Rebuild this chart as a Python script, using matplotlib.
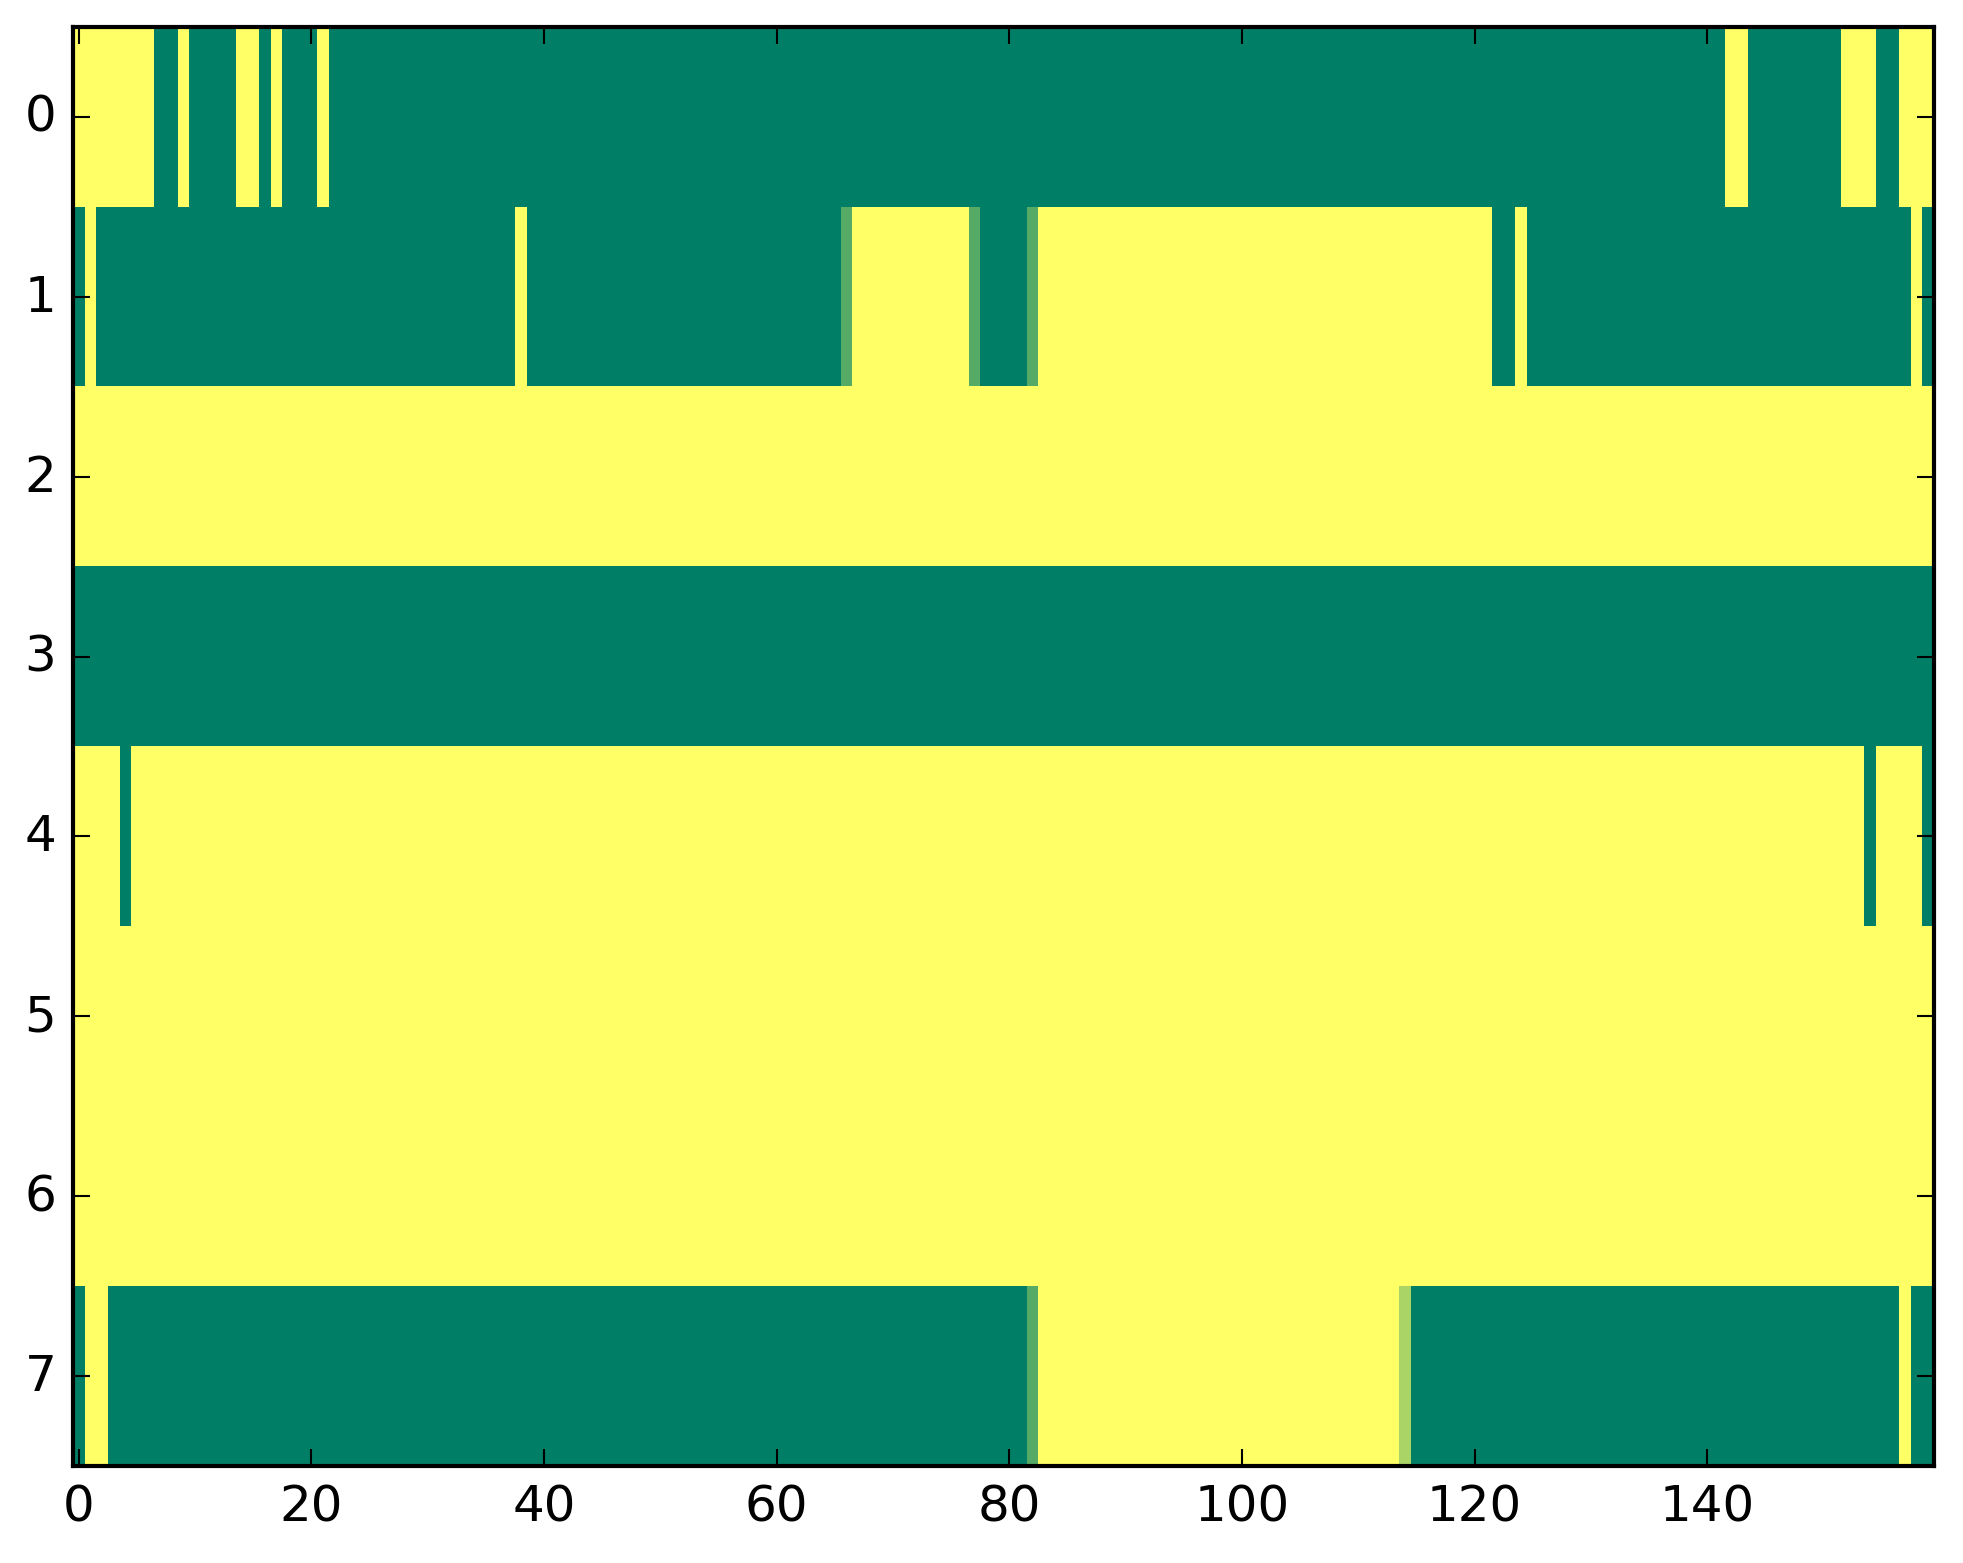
import numpy as np
import matplotlib
matplotlib.use('Agg')
import matplotlib.pyplot as plt

plt.style.use('classic')

# each row as runs of (value, length), 160 columns per row
row0 = [(1, 7), (0, 2), (1, 1), (0, 4), (1, 2), (0, 1), (1, 1), (0, 3), (1, 1),
        (0, 120), (1, 2), (0, 8), (1, 3), (0, 2), (1, 3)]
row1 = [(0, 1), (1, 1), (0, 36), (1, 1), (0, 27), (1/3, 1), (1, 10), (1/3, 1),
        (0, 4), (1/3, 1), (1, 39), (0, 2), (1, 1), (0, 33), (1, 1), (0, 1)]
row2 = [(1, 160)]
row3 = [(0, 160)]
row4 = [(1, 4), (0, 1), (1, 149), (0, 1), (1, 4), (0, 1)]
row5 = [(1, 160)]
row6 = [(1, 160)]
row7 = [(0, 1), (1, 2), (0, 79), (1/3, 1), (1, 31), (2/3, 1), (0, 42), (1, 1), (0, 2)]

rows = [row0, row1, row2, row3, row4, row5, row6, row7]


def expand(runs):
    out = []
    for v, n in runs:
        out += [v] * n
    return out


grid = np.array([expand(r) for r in rows], dtype=float)

fig = plt.figure(figsize=(1963/300, 1564/300), dpi=300)
ax = fig.add_axes([73/1963, 1 - 1467/1564, (1934-73)/1963, (1467-28)/1564])
ax.imshow(grid, cmap='summer', aspect='auto', interpolation='nearest')
ax.set_xticks(np.arange(0, 141, 20))
ax.set_yticks(np.arange(0, 8))
ax.set_xlim(-0.5, grid.shape[1]-0.5)
ax.set_ylim(grid.shape[0]-0.5, -0.5)

fig.savefig('out.png', dpi=300)
